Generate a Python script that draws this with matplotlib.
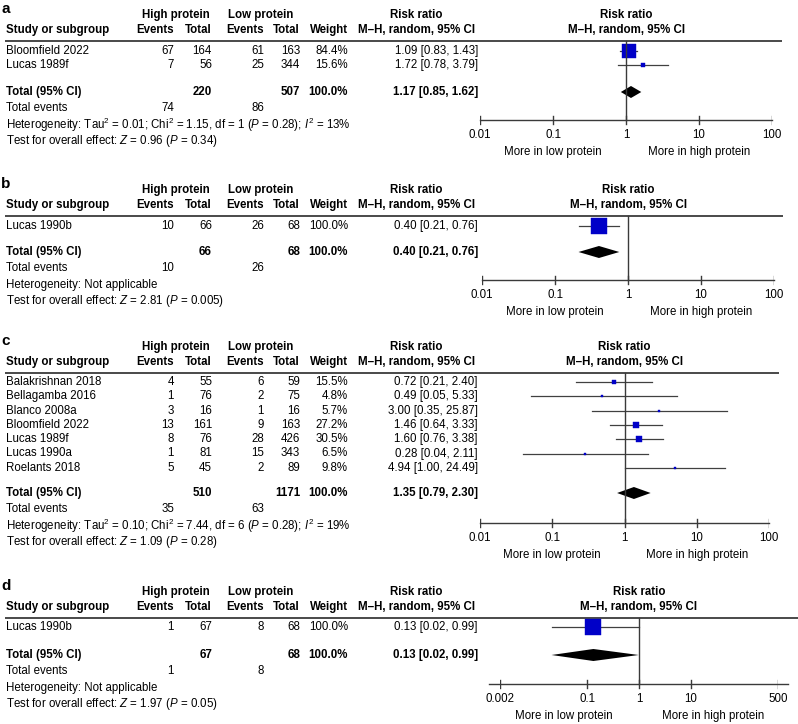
import matplotlib.pyplot as plt
import numpy as np

plt.rcParams['font.family'] = ['Liberation Sans', 'DejaVu Sans']
plt.rcParams['mathtext.fontset'] = 'custom'
plt.rcParams['mathtext.rm'] = 'Liberation Sans'
plt.rcParams['mathtext.it'] = 'Liberation Sans:italic'
plt.rcParams['mathtext.bf'] = 'Liberation Sans:bold'

W, H = 798, 724
FS = 8.3
BLUE = '#0000c8'
LINE = '#3a3a3a'

# ---- data: panel a
a_study = ['Bloomfield 2022', 'Lucas 1989f']
a_hi_ev = [67, 7]
a_hi_n = [164, 56]
a_lo_ev = [61, 25]
a_lo_n = [163, 344]
a_weight = [84.4, 15.6]
a_rr = [1.09, 1.72]
a_ci_lo = [0.83, 0.78]
a_ci_hi = [1.43, 3.79]
a_tot_n = [220, 507]
a_tot_ev = [74, 86]
a_tot_rr = [1.17, 0.85, 1.62]
a_het = 'Heterogeneity: Tau$^2$ = 0.01; Chi$^2$ = 1.15, df = 1 ($P$ = 0.28); $I^2$ = 13%'
a_test = 'Test for overall effect: $Z$ = 0.96 ($P$ = 0.34)'

# ---- data: panel b
b_study = ['Lucas 1990b']
b_hi_ev = [10]
b_hi_n = [66]
b_lo_ev = [26]
b_lo_n = [68]
b_weight = [100.0]
b_rr = [0.40]
b_ci_lo = [0.21]
b_ci_hi = [0.76]
b_tot_n = [66, 68]
b_tot_ev = [10, 26]
b_tot_rr = [0.40, 0.21, 0.76]
b_het = 'Heterogeneity: Not applicable'
b_test = 'Test for overall effect: $Z$ = 2.81 ($P$ = 0.005)'

# ---- data: panel c
c_study = ['Balakrishnan 2018', 'Bellagamba 2016', 'Blanco 2008a', 'Bloomfield 2022',
           'Lucas 1989f', 'Lucas 1990a', 'Roelants 2018']
c_hi_ev = [4, 1, 3, 13, 8, 1, 5]
c_hi_n = [55, 76, 16, 161, 76, 81, 45]
c_lo_ev = [6, 2, 1, 9, 28, 15, 2]
c_lo_n = [59, 75, 16, 163, 426, 343, 89]
c_weight = [15.5, 4.8, 5.7, 27.2, 30.5, 6.5, 9.8]
c_rr = [0.72, 0.49, 3.00, 1.46, 1.60, 0.28, 4.94]
c_ci_lo = [0.21, 0.05, 0.35, 0.64, 0.76, 0.04, 1.00]
c_ci_hi = [2.40, 5.33, 25.87, 3.33, 3.38, 2.11, 24.49]
c_tot_n = [510, 1171]
c_tot_ev = [35, 63]
c_tot_rr = [1.35, 0.79, 2.30]
c_het = 'Heterogeneity: Tau$^2$ = 0.10; Chi$^2$ = 7.44, df = 6 ($P$ = 0.28); $I^2$ = 19%'
c_test = 'Test for overall effect: $Z$ = 1.09 ($P$ = 0.28)'

# ---- data: panel d
d_study = ['Lucas 1990b']
d_hi_ev = [1]
d_hi_n = [67]
d_lo_ev = [8]
d_lo_n = [68]
d_weight = [100.0]
d_rr = [0.13]
d_ci_lo = [0.02]
d_ci_hi = [0.99]
d_tot_n = [67, 68]
d_tot_ev = [1, 8]
d_tot_rr = [0.13, 0.02, 0.99]
d_het = 'Heterogeneity: Not applicable'
d_test = 'Test for overall effect: $Z$ = 1.97 ($P$ = 0.05)'

ticks_std = [0.01, 0.1, 1, 10, 100]
ticklabels_std = ['0.01', '0.1', '1', '10', '100']
ticks_d = [0.002, 0.1, 1, 10, 500]
ticklabels_d = ['0.002', '0.1', '1', '10', '500']

panels = [
    dict(label='a', study=a_study, hi_ev=a_hi_ev, hi_n=a_hi_n, lo_ev=a_lo_ev, lo_n=a_lo_n,
         weight=a_weight, rr=a_rr, lo=a_ci_lo, hi=a_ci_hi, tot_n=a_tot_n, tot_ev=a_tot_ev,
         tot_rr=a_tot_rr, het=a_het, test=a_test, ticks=ticks_std, ticklabels=ticklabels_std,
         # layout (pixels)
         top=15, row0=51, total=92, axis=120, px=(480, 772), pad=(0, 0), hline_end=782),
    dict(label='b', study=b_study, hi_ev=b_hi_ev, hi_n=b_hi_n, lo_ev=b_lo_ev, lo_n=b_lo_n,
         weight=b_weight, rr=b_rr, lo=b_ci_lo, hi=b_ci_hi, tot_n=b_tot_n, tot_ev=b_tot_ev,
         tot_rr=b_tot_rr, het=b_het, test=b_test, ticks=ticks_std, ticklabels=ticklabels_std,
         top=190, row0=226, total=252, axis=280, px=(482, 774), pad=(0, 0), hline_end=783),
    dict(label='c', study=c_study, hi_ev=c_hi_ev, hi_n=c_hi_n, lo_ev=c_lo_ev, lo_n=c_lo_n,
         weight=c_weight, rr=c_rr, lo=c_ci_lo, hi=c_ci_hi, tot_n=c_tot_n, tot_ev=c_tot_ev,
         tot_rr=c_tot_rr, het=c_het, test=c_test, ticks=ticks_std, ticklabels=ticklabels_std,
         top=347, row0=382, total=493, axis=523, px=(480, 769), pad=(0, 0), hline_end=779),
    dict(label='d', study=d_study, hi_ev=d_hi_ev, hi_n=d_hi_n, lo_ev=d_lo_ev, lo_n=d_lo_n,
         weight=d_weight, rr=d_rr, lo=d_ci_lo, hi=d_ci_hi, tot_n=d_tot_n, tot_ev=d_tot_ev,
         tot_rr=d_tot_rr, het=d_het, test=d_test, ticks=ticks_d, ticklabels=ticklabels_d,
         top=592, row0=627, total=655, axis=684, px=(500, 778), pad=(11, 10), hline_end=798),
]

# column x positions (pixels)
X_STUDY = 6
X_HI_EV, X_HI_N = 174, 212
X_LO_EV, X_LO_N = 264, 300
X_W = 348
X_RR = 478
X_RR_HDR = 416
ROW_STEP = 14.3

fig = plt.figure(figsize=(W / 100, H / 100), dpi=100)
tax = fig.add_axes([0, 0, 1, 1])
tax.set_xlim(0, W)
tax.set_ylim(H, 0)
tax.axis('off')


def txt(x, y, s, ha='left', bold=False, size=FS, ax=None):
    (ax or tax).text(x, y, s, ha=ha, va='center', fontsize=size,
                     fontweight='bold' if bold else 'normal', color='black')


for p in panels:
    top = p['top']
    hdr = top + 15
    line_y = top + 26
    # panel letter and headers
    txt(1, top - 6, p['label'], bold=True, size=11)
    txt(142, top, 'High protein', bold=True)
    txt(228, top, 'Low protein', bold=True)
    txt(X_RR_HDR, top, 'Risk ratio', ha='center', bold=True)
    txt(X_STUDY, hdr, 'Study or subgroup', bold=True)
    txt(X_HI_EV, hdr, 'Events', ha='right', bold=True)
    txt(X_HI_N, hdr, 'Total', ha='right', bold=True)
    txt(X_LO_EV, hdr, 'Events', ha='right', bold=True)
    txt(X_LO_N, hdr, 'Total', ha='right', bold=True)
    txt(X_W, hdr, 'Weight', ha='right', bold=True)
    txt(X_RR_HDR, hdr, 'M\u2013H, random, 95% CI', ha='center', bold=True)
    tax.plot([5, p['hline_end']], [line_y, line_y], color=LINE, lw=1.3, solid_capstyle='butt')

    # forest axes, log scale in x, pixel units in y
    x0, x1 = p['px']
    fax = fig.add_axes([x0 / W, 0, (x1 - x0) / W, 1])
    fax.set_xscale('log')
    fax.set_xlim(p['ticks'][0], p['ticks'][-1])
    fax.set_ylim(H, 0)
    fax.axis('off')

    txt(1, top, 'Risk ratio', ha='center', bold=True, ax=fax)
    txt(1, hdr, 'M\u2013H, random, 95% CI', ha='center', bold=True, ax=fax)

    # study rows
    for i, name in enumerate(p['study']):
        y = p['row0'] + ROW_STEP * i
        txt(X_STUDY, y, name)
        txt(X_HI_EV, y, str(p['hi_ev'][i]), ha='right')
        txt(X_HI_N, y, str(p['hi_n'][i]), ha='right')
        txt(X_LO_EV, y, str(p['lo_ev'][i]), ha='right')
        txt(X_LO_N, y, str(p['lo_n'][i]), ha='right')
        txt(X_W, y, f"{p['weight'][i]:.1f}%", ha='right')
        txt(X_RR, y, f"{p['rr'][i]:.2f} [{p['lo'][i]:.2f}, {p['hi'][i]:.2f}]", ha='right')
        fax.plot([p['lo'][i], p['hi'][i]], [y, y], color='#404040', lw=0.9)
        side = 1.5 + 15 * p['weight'][i] / 100
        fax.plot([p['rr'][i]], [y], marker='s', ms=side * 0.72, color=BLUE,
                 mec=BLUE, mew=0.3, ls='none')

    # total row
    ty = p['total']
    txt(X_STUDY, ty, 'Total (95% CI)', bold=True)
    txt(X_HI_N, ty, str(p['tot_n'][0]), ha='right', bold=True)
    txt(X_LO_N, ty, str(p['tot_n'][1]), ha='right', bold=True)
    txt(X_W, ty, '100.0%', ha='right', bold=True)
    rr, lo, hi = p['tot_rr']
    txt(X_RR, ty, f"{rr:.2f} [{lo:.2f}, {hi:.2f}]", ha='right', bold=True)
    fax.fill([lo, rr, hi, rr], [ty, ty - 6, ty, ty + 6], color='black', lw=0)

    ey = ty + 16
    txt(X_STUDY, ey, 'Total events')
    txt(X_HI_EV, ey, str(p['tot_ev'][0]), ha='right')
    txt(X_LO_EV, ey, str(p['tot_ev'][1]), ha='right')
    txt(X_STUDY, ey + 17, p['het'])
    txt(X_STUDY, ey + 33, p['test'])

    # axis
    ay = p['axis']
    fax.plot([1, 1], [line_y, ay], color=LINE, lw=1.0)
    lx0, lx1 = x0 - p['pad'][0], x1 + p['pad'][1]
    tax.plot([lx0, lx1], [ay, ay], color=LINE, lw=1.0)
    for t, lab in zip(p['ticks'], p['ticklabels']):
        fax.plot([t, t], [ay - 4, ay + 4], color=LINE, lw=1.0)
        txt(t, ay + 15, lab, ha='center', ax=fax)
    # centre of axis, in pixels
    xc = x0 + (x1 - x0) * (0 - np.log10(p['ticks'][0])) / (np.log10(p['ticks'][-1]) - np.log10(p['ticks'][0]))
    txt((lx0 + xc) / 2, ay + 32, 'More in low protein', ha='center')
    txt((xc + lx1) / 2, ay + 32, 'More in high protein', ha='center')

fig.savefig('out.png', dpi=100)
